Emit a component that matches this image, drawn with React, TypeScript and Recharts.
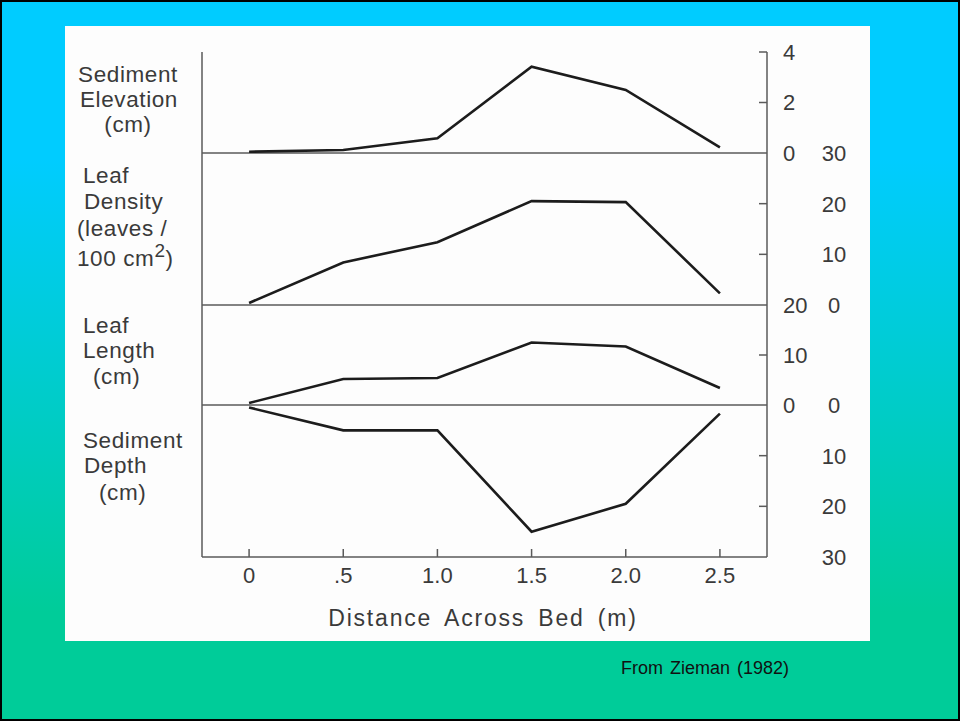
import React from 'react'
import { LineChart, Line, XAxis, YAxis, ReferenceLine } from 'recharts'

// values (Zieman 1982), distance across the bed in m
const distance = [0, 0.5, 1.0, 1.5, 2.0, 2.5]
const sedimentElevation = [0.05, 0.12, 0.58, 3.42, 2.5, 0.22]
const leafDensity = [0.4, 8.4, 12.4, 20.5, 20.3, 2.3]
const leafLength = [0.4, 5.2, 5.4, 12.5, 11.7, 3.4]
const sedimentDepth = [0.5, 5, 5, 25, 19.5, 1.7]

const xTicks = [0, 0.5, 1, 1.5, 2, 2.5]
const xTickLabels = ['0', '.5', '1.0', '1.5', '2.0', '2.5']
const elevationTicks = [0, 2, 4]
const densityTicks = [0, 10, 20, 30]
const lengthTicks = [0, 10, 20]
const depthTicks = [0, 10, 20, 30]

const rows = distance.map((d, i) => ({
  d,
  elev: sedimentElevation[i],
  dens: leafDensity[i],
  len: leafLength[i],
  depth: sedimentDepth[i],
}))

const FONT = '"Liberation Sans", Arial, sans-serif'
const INK = '#1c1c1c'
const GREY = '#3a3a3a'
const AXIS = '#5a5a5a'
const PAD = 20
const PLOT_LEFT = 202
const PLOT_RIGHT = 767
const AXIS_W = 10
const X_AXIS_H = 50

function LeftTick(props: any) {
  const { x, y, payload, marks } = props
  if (!marks.includes(payload.value)) return <g />
  return <line x1={x} x2={x + 8} y1={y} y2={y} stroke={AXIS} strokeWidth={1.5} />
}

function RightTick(props: any) {
  const { x, y, payload, marks, col } = props
  const v = payload.value
  return (
    <g>
      {marks.includes(v) && <line x1={x - 8} x2={x} y1={y} y2={y} stroke={AXIS} strokeWidth={1.5} />}
      <text
        x={col === 'a' ? x + 16 : x + 67}
        y={y}
        dy="0.36em"
        textAnchor={col === 'a' ? 'start' : 'middle'}
        fontFamily={FONT}
        fontSize={22}
        fill={GREY}
      >
        {v}
      </text>
    </g>
  )
}

function XTick(props: any) {
  const { x, y, payload } = props
  const label = xTickLabels[xTicks.indexOf(payload.value)]
  return (
    <g>
      <line x1={x} x2={x} y1={y - 8} y2={y} stroke={AXIS} strokeWidth={1.5} />
      <text x={x} y={y + 26} textAnchor="middle" fontFamily={FONT} fontSize={22} fill={GREY}>
        {label}
      </text>
    </g>
  )
}

type PanelProps = {
  top: number
  bottom: number
  dataKey: string
  domain: [number, number]
  ticks: number[]
  marks: number[]
  col: 'a' | 'b'
  reversed?: boolean
  baseline?: boolean
  showX?: boolean
}

function Panel(p: PanelProps) {
  const below = p.showX ? X_AXIS_H + 10 : PAD
  const height = p.bottom - p.top + PAD + below
  const axisLine = { stroke: AXIS, strokeWidth: 1.5 }
  return (
    <div style={{ position: 'absolute', left: 0, top: p.top - PAD }}>
      <LineChart
        width={960}
        height={height}
        data={rows}
        margin={{ top: PAD, bottom: p.showX ? 10 : PAD, left: PLOT_LEFT - AXIS_W, right: 960 - PLOT_RIGHT - AXIS_W }}
      >
        <XAxis
          dataKey="d"
          type="number"
          domain={[-0.25, 2.75]}
          ticks={xTicks}
          interval={0}
          hide={!p.showX}
          height={X_AXIS_H}
          tickSize={0}
          tickMargin={0}
          tickLine={false}
          axisLine={axisLine}
          tick={(t: any) => <XTick {...t} />}
        />
        <YAxis
          yAxisId="l"
          orientation="left"
          width={AXIS_W}
          domain={p.domain}
          reversed={p.reversed}
          ticks={p.ticks}
          interval={0}
          tickSize={0}
          tickMargin={0}
          tickLine={false}
          axisLine={axisLine}
          tick={(t: any) => <LeftTick {...t} marks={p.marks} />}
        />
        <YAxis
          yAxisId="r"
          orientation="right"
          width={AXIS_W}
          domain={p.domain}
          reversed={p.reversed}
          ticks={p.ticks}
          interval={0}
          tickSize={0}
          tickMargin={0}
          tickLine={false}
          axisLine={axisLine}
          tick={(t: any) => <RightTick {...t} marks={p.marks} col={p.col} />}
        />
        {p.baseline && <ReferenceLine yAxisId="r" y={0} stroke={AXIS} strokeWidth={1.5} />}
        <Line
          yAxisId="r"
          dataKey={p.dataKey}
          type="linear"
          stroke={INK}
          strokeWidth={2.6}
          dot={false}
          isAnimationActive={false}
        />
      </LineChart>
    </div>
  )
}

const labelStyle = { fontFamily: FONT, fontSize: 22.5, fill: GREY, letterSpacing: 0.6 }

export default function App() {
  return (
    <div
      style={{
        position: 'absolute',
        left: 0,
        top: 0,
        width: 960,
        height: 721,
        background: 'linear-gradient(to bottom, #00ccff 0%, #00ccff 22%, #00cc99 85%, #00cc99 100%)',
        boxShadow: 'inset 0 0 0 2px #000',
        overflow: 'hidden',
      }}
    >
      <div style={{ position: 'absolute', left: 65, top: 26, width: 805, height: 615, background: '#fdfdfd' }} />

      <Panel top={52} bottom={153} dataKey="elev" domain={[0, 4]} ticks={elevationTicks} marks={[2, 4]} col="a" baseline />
      <Panel top={153} bottom={305} dataKey="dens" domain={[0, 30]} ticks={densityTicks} marks={[10, 20]} col="b" baseline />
      <Panel top={305} bottom={405} dataKey="len" domain={[0, 20]} ticks={lengthTicks} marks={[10]} col="a" baseline />
      <Panel top={405} bottom={557} dataKey="depth" domain={[0, 30]} ticks={depthTicks} marks={[10, 20]} col="b" reversed showX />

      <svg width={960} height={721} style={{ position: 'absolute', left: 0, top: 0, pointerEvents: 'none' }}>
        <g {...labelStyle}>
          <text x={128} y={82} textAnchor="middle">Sediment</text>
          <text x={129} y={107} textAnchor="middle">Elevation</text>
          <text x={128} y={132} textAnchor="middle">(cm)</text>

          <text x={83} y={183}>Leaf</text>
          <text x={84} y={209}>Density</text>
          <text x={77} y={236}>(leaves /</text>
          <text x={77} y={266}>
            100 cm<tspan fontSize={19} dy={-9}>2</tspan>
            <tspan dy={9}>)</tspan>
          </text>

          <text x={83} y={333}>Leaf</text>
          <text x={83} y={358}>Length</text>
          <text x={93} y={384}>(cm)</text>

          <text x={83} y={448}>Sediment</text>
          <text x={84} y={473}>Depth</text>
          <text x={99} y={500}>(cm)</text>
        </g>
        <text
          x={483}
          y={626}
          textAnchor="middle"
          fontFamily={FONT}
          fontSize={23}
          fill={GREY}
          letterSpacing={1.8}
          wordSpacing={5}
        >
          Distance Across Bed (m)
        </text>
        <text x={621} y={674} fontFamily={FONT} fontSize={18} fill="#111" wordSpacing={2}>
          From Zieman (1982)
        </text>
      </svg>
    </div>
  )
}
